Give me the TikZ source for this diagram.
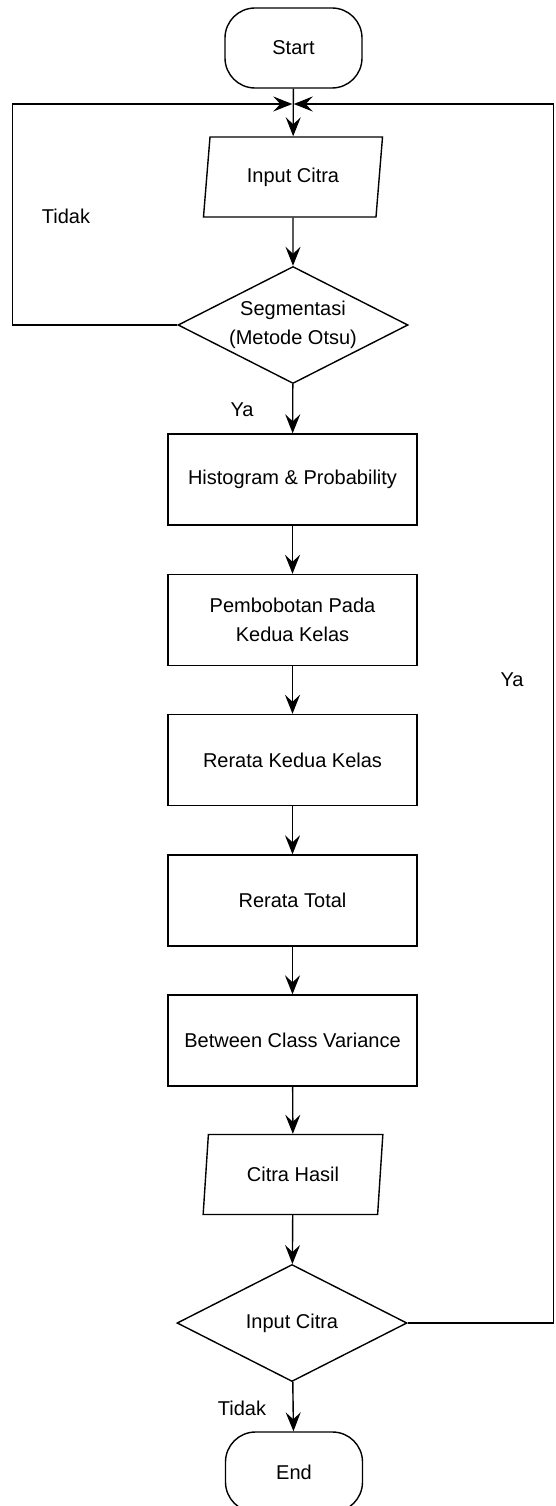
\documentclass[tikz,border=0pt]{standalone}
\usepackage{fontspec}
\setmainfont{Liberation Sans}
\usetikzlibrary{shapes.geometric,arrows.meta}

\begin{document}
\begin{tikzpicture}[x=10pt,y=10pt,line width=1.4pt,font=\fontsize{20}{29}\selectfont]
\tikzstyle{every node}+=[inner sep=0pt]
\tikzstyle{term}=[draw, rounded corners=30pt, minimum width=137pt, minimum height=80pt]
\tikzstyle{proc}=[draw, minimum width=249pt, minimum height=91pt, align=center]
\tikzstyle{io}=[draw, trapezium, trapezium left angle=79, trapezium right angle=101, trapezium stretches=true, minimum width=180pt, minimum height=80pt]
\tikzstyle{dec}=[draw, diamond, aspect=2, minimum width=230pt, minimum height=117pt, align=center]
\tikzstyle{conn}=[draw, -{Stealth[length=19pt,width=15pt,inset=7pt]}]
\useasboundingbox (0,0) rectangle (55.6,-150.6);
\clip (0,0) rectangle (55.6,-150.6);
% flow
\node [term] (start) at (29.35,-4.8) {Start};
\coordinate (merge) at (29.3,-10.4);
\node [io] (input) at (29.3,-17.7) {Input Citra};
\node [dec] (seg) at (29.3,-32.5) {Segmentasi\\(Metode Otsu)};
\node [proc] (hist) at (29.25,-47.95) {Histogram \& Probability};
\node [proc] (bobot) at (29.25,-62) {Pembobotan Pada\\Kedua Kelas};
\node [proc] (rerata) at (29.25,-76) {Rerata Kedua Kelas};
\node [proc] (total) at (29.25,-90.05) {Rerata Total};
\node [proc] (bcv) at (29.25,-104.05) {Between Class Variance};
\node [io] (hasil) at (29.3,-117.45) {Citra Hasil};
\node [dec] (cek) at (29.2,-132.3) {Input Citra};
\node [term] (end) at (29.4,-147.2) {End};
% labels
\node (tidak1) at (6.6,-21.6) {Tidak};
\node (ya1) at (24.2,-41) {Ya};
\node (ya2) at (51.2,-68) {Ya};
\node (tidak2) at (24.2,-140.8) {Tidak};
% arrows
\path [conn] (start) -- (input);
\path [conn] (input) -- (seg);
\path [conn] (seg) -- (hist);
\path [conn] (hist) -- (bobot);
\path [conn] (bobot) -- (rerata);
\path [conn] (rerata) -- (total);
\path [conn] (total) -- (bcv);
\path [conn] (bcv) -- (hasil);
\path [conn] (hasil) -- (cek);
\path [conn] (cek) -- (end);
\path [conn, shorten >=0.7pt] (seg.west) -- ++(-16.5,0) |- (merge);
\path [conn, shorten >=0.7pt] (cek.east) -- ++(14.6,0) |- (merge);
\end{tikzpicture}
\end{document}
